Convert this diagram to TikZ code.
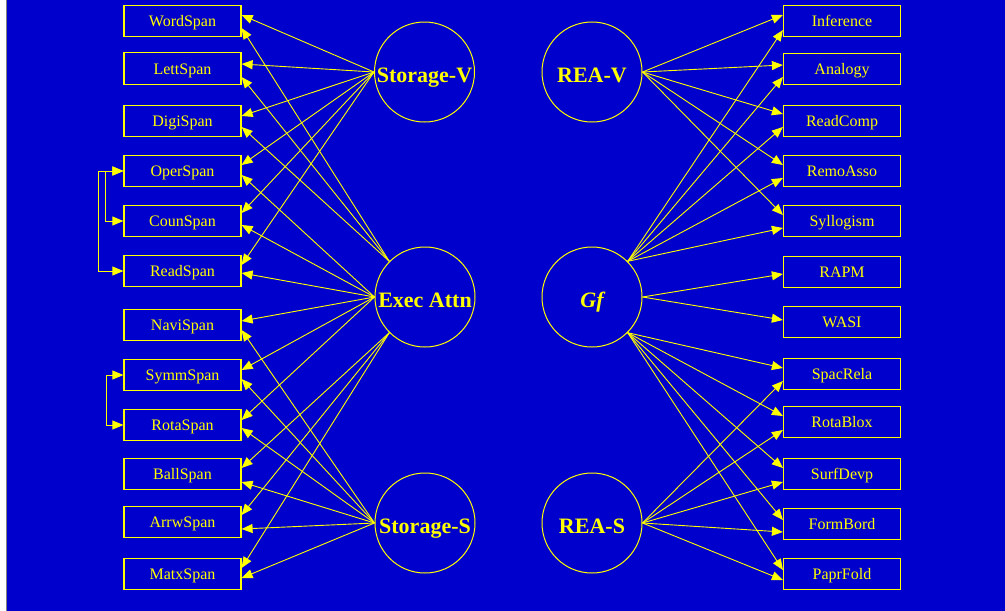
\documentclass[tikz,border=0pt]{standalone}
\usepackage{fontspec}
\setmainfont{Liberation Serif}
\usetikzlibrary{arrows.meta,calc}
\definecolor{bgblue}{RGB}{0,0,204}
\definecolor{ylw}{RGB}{255,255,0}
\tikzset{
  obs/.style={draw=ylw, line width=1.2pt, minimum width=117pt, minimum height=31.5pt, inner sep=0pt, text=ylw, text height=11.4pt, text depth=0pt, font=\fontsize{16}{16}\selectfont},
  lat/.style={draw=ylw, circle, line width=1pt, minimum size=100pt, inner sep=0pt, text=ylw, text height=21pt, text depth=0pt, font=\fontsize{22}{22}\selectfont\bfseries},
  arr/.style={draw=ylw, line width=0.9pt, -{Triangle[length=11pt,width=9pt]}},
  cov/.style={draw=ylw, line width=0.9pt, {Triangle[length=11pt,width=9pt]}-{Triangle[length=11pt,width=9pt]}}
}
\begin{document}
\begin{tikzpicture}[x=1pt,y=-1pt]
\useasboundingbox (0,0) rectangle (1005,611);
\fill[white] (0,0) rectangle (1005,611);
\fill[bgblue] (6.5,0) rectangle (1005,611);
\draw[gray, line width=1pt] (6.5,0) -- (6.5,611);

% left observed
\node[obs] (WordSpan) at (182.5,21) {WordSpan};
\node[obs] (LettSpan) at (182.5,68.5) {LettSpan};
\node[obs] (DigiSpan) at (182.5,121) {DigiSpan};
\node[obs] (OperSpan) at (182.5,171) {OperSpan};
\node[obs] (CounSpan) at (182.5,221) {CounSpan};
\node[obs] (ReadSpan) at (182.5,271) {ReadSpan};
\node[obs] (NaviSpan) at (182.5,325) {NaviSpan};
\node[obs] (SymmSpan) at (182.5,375) {SymmSpan};
\node[obs] (RotaSpan) at (182.5,425) {RotaSpan};
\node[obs] (BallSpan) at (182.5,474) {BallSpan};
\node[obs] (ArrwSpan) at (182.5,522) {ArrwSpan};
\node[obs] (MatxSpan) at (182.5,574) {MatxSpan};

% right observed
\node[obs] (Inference) at (842,21) {Inference};
\node[obs] (Analogy) at (842,69) {Analogy};
\node[obs] (ReadComp) at (842,121) {ReadComp};
\node[obs] (RemoAsso) at (842,171) {RemoAsso};
\node[obs] (Syllogism) at (842,221) {Syllogism};
\node[obs] (RAPM) at (842,272) {RAPM};
\node[obs] (WASI) at (842,322) {WASI};
\node[obs] (SpacRela) at (842,374) {SpacRela};
\node[obs] (RotaBlox) at (842,422) {RotaBlox};
\node[obs] (SurfDevp) at (842,474) {SurfDevp};
\node[obs] (FormBord) at (842,524) {FormBord};
\node[obs] (PaprFold) at (842,574) {PaprFold};

% latent
\node[lat] (SV) at (424.5,72) {Storage-V};
\node[lat] (EA) at (425,297) {Exec Attn};
\node[lat] (SS) at (425,523) {Storage-S};
\node[lat] (RV) at (592,72) {REA-V};
\node[lat] (Gf) at (592,297) {\itshape Gf};
\node[lat] (RS) at (592,523) {REA-S};

% Storage-V
\draw[arr] (SV.west) -- ($(WordSpan.east)+(0,-6)$);
\draw[arr] (SV.west) -- ($(LettSpan.east)+(0,-4.5)$);
\draw[arr] (SV.west) -- ($(DigiSpan.east)+(0,-5)$);
\draw[arr] (SV.west) -- ($(OperSpan.east)+(0,-6)$);
\draw[arr] (SV.west) -- ($(CounSpan.east)+(0,-8)$);
\draw[arr] (SV.west) -- ($(ReadSpan.east)+(0,-6)$);
% Exec Attn
\draw[arr] (EA.north west) -- ($(WordSpan.east)+(0,7)$);
\draw[arr] (EA.north west) -- ($(LettSpan.east)+(0,8.5)$);
\draw[arr] (EA.north west) -- ($(DigiSpan.east)+(0,6)$);
\draw[arr] (EA.west) -- ($(OperSpan.east)+(0,4)$);
\draw[arr] (EA.west) -- ($(CounSpan.east)+(0,4)$);
\draw[arr] (EA.west) -- ($(ReadSpan.east)+(0,2)$);
\draw[arr] (EA.west) -- ($(NaviSpan.east)+(0,-4)$);
\draw[arr] (EA.west) -- ($(SymmSpan.east)+(0,-5)$);
\draw[arr] (EA.west) -- ($(RotaSpan.east)+(0,-5)$);
\draw[arr] (EA.south west) -- ($(BallSpan.east)+(0,-6)$);
\draw[arr] (EA.south west) -- ($(ArrwSpan.east)+(0,-7)$);
\draw[arr] (EA.south west) -- ($(MatxSpan.east)+(0,-6)$);
% Storage-S
\draw[arr] (SS.west) -- ($(NaviSpan.east)+(0,5)$);
\draw[arr] (SS.west) -- ($(SymmSpan.east)+(0,4)$);
\draw[arr] (SS.west) -- ($(RotaSpan.east)+(0,3)$);
\draw[arr] (SS.west) -- ($(BallSpan.east)+(0,8)$);
\draw[arr] (SS.west) -- ($(ArrwSpan.east)+(0,7)$);
\draw[arr] (SS.west) -- ($(MatxSpan.east)+(0,4)$);

% REA-V
\draw[arr] (RV.east) -- ($(Inference.west)+(0,-6)$);
\draw[arr] (RV.east) -- ($(Analogy.west)+(0,-4)$);
\draw[arr] (RV.east) -- ($(ReadComp.west)+(0,-7)$);
\draw[arr] (RV.east) -- ($(RemoAsso.west)+(0,-6)$);
\draw[arr] (RV.east) -- ($(Syllogism.west)+(0,-6)$);
% Gf
\draw[arr] (Gf.north east) -- ($(Inference.west)+(0,9)$);
\draw[arr] (Gf.north east) -- ($(Analogy.west)+(0,8)$);
\draw[arr] (Gf.north east) -- ($(ReadComp.west)+(0,6)$);
\draw[arr] (Gf.north east) -- ($(RemoAsso.west)+(0,7)$);
\draw[arr] (Gf.north east) -- ($(Syllogism.west)+(0,7)$);
\draw[arr] (Gf.east) -- ($(RAPM.west)+(0,2)$);
\draw[arr] (Gf.east) -- ($(WASI.west)+(0,-2)$);
\draw[arr] (Gf.south east) -- ($(SpacRela.west)+(0,-6)$);
\draw[arr] (Gf.south east) -- ($(RotaBlox.west)+(0,-6)$);
\draw[arr] (Gf.south east) -- ($(SurfDevp.west)+(0,-6)$);
\draw[arr] (Gf.south east) -- ($(FormBord.west)+(0,-4)$);
\draw[arr] (Gf.south east) -- ($(PaprFold.west)+(0,-4)$);
% REA-S
\draw[arr] (RS.east) -- ($(SpacRela.west)+(0,7)$);
\draw[arr] (RS.east) -- ($(RotaBlox.west)+(0,8)$);
\draw[arr] (RS.east) -- ($(SurfDevp.west)+(0,8)$);
\draw[arr] (RS.east) -- ($(FormBord.west)+(0,8)$);
\draw[arr] (RS.east) -- ($(PaprFold.west)+(0,6)$);

% covariances
\draw[cov] (OperSpan.west) -- ++(-25,0) |- (ReadSpan.west);
\draw[cov] (OperSpan.west) -- ++(-18,0) |- (CounSpan.west);
\draw[cov] (SymmSpan.west) -- ++(-17,0) |- (RotaSpan.west);
\end{tikzpicture}
\end{document}
